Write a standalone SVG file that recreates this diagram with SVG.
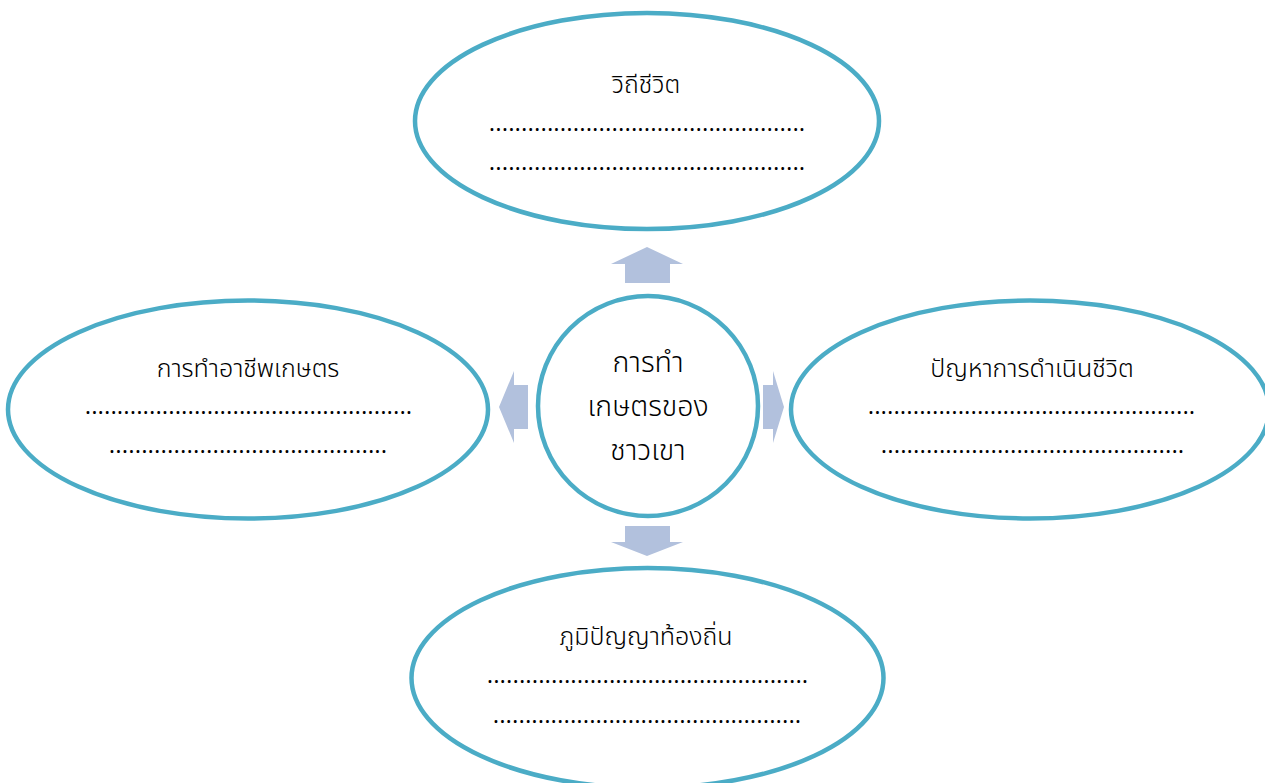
<svg xmlns="http://www.w3.org/2000/svg" width="1265" height="783" viewBox="0 0 1265 783">
<style>
.node{fill:#FFFFFF;stroke:#4BACC6;stroke-width:4.5}
.arrow{fill:#B2C1DD;stroke:none}
.t{font-family:"Noto Sans Thai","Noto Sans Thai UI","Noto Sans","DejaVu Sans",sans-serif;fill:#000000;text-anchor:middle;font-weight:300}
.title{font-size:25px}
.center{font-size:28.5px}
.dots{font-size:22px;font-weight:400}
</style>
<rect width="1265" height="783" fill="#FFFFFF"/>
<g id="connectors">
<polygon class="arrow" points="647,247 683,264 670,264 670,283 625,283 625,264 611,264"/>
<polygon class="arrow" points="647,556 683,542 670,542 670,526 625,526 625,542 611,542"/>
<polygon class="arrow" points="499,407 514,371 514,385 528,385 528,429 514,429 514,443"/>
<polygon class="arrow" points="784,407 773,371 773,385 763,385 763,429 773,429 773,443"/>
</g>
<g id="node-top">
<ellipse class="node" cx="647" cy="121" rx="232" ry="108"/>
<text class="t title" x="646" y="93">วิถีชีวิต</text>
<text class="t dots" x="647" y="131" textLength="316" lengthAdjust="spacing">.................................................</text>
<text class="t dots" x="647" y="170" textLength="316" lengthAdjust="spacing">.................................................</text>
</g>
<g id="node-left">
<ellipse class="node" cx="248" cy="409.5" rx="240" ry="109"/>
<text class="t title" x="248" y="377">การทำอาชีพเกษตร</text>
<text class="t dots" x="248.5" y="414" textLength="327" lengthAdjust="spacing">...................................................</text>
<text class="t dots" x="248" y="453" textLength="278" lengthAdjust="spacing">...........................................</text>
</g>
<g id="node-right">
<ellipse class="node" cx="1030" cy="409.5" rx="239" ry="109"/>
<text class="t title" x="1032" y="377">ปัญหาการดำเนินชีวิต</text>
<text class="t dots" x="1031.5" y="414" textLength="327" lengthAdjust="spacing">...................................................</text>
<text class="t dots" x="1032.5" y="453" textLength="303" lengthAdjust="spacing">...............................................</text>
</g>
<g id="node-bottom">
<ellipse class="node" cx="647.5" cy="678" rx="236" ry="110"/>
<text class="t title" x="646" y="645">ภูมิปัญญาท้องถิ่น</text>
<text class="t dots" x="647.5" y="683" textLength="321" lengthAdjust="spacing">..................................................</text>
<text class="t dots" x="647" y="723" textLength="308" lengthAdjust="spacing">................................................</text>
</g>
<g id="node-center">
<circle class="node" cx="648" cy="406" r="110"/>
<text class="t center" x="648" y="372">การทำ</text>
<text class="t center" x="648" y="416">เกษตรของ</text>
<text class="t center" x="648" y="460">ชาวเขา</text>
</g>
</svg>
